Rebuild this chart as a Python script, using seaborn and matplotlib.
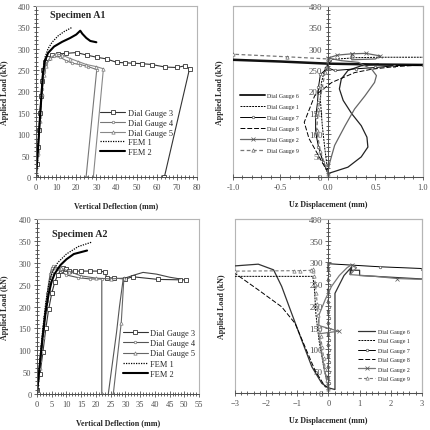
import matplotlib
matplotlib.use("Agg")
import matplotlib.pyplot as plt
from matplotlib.ticker import MultipleLocator
from matplotlib.patches import Rectangle
import seaborn as sns

# ---- Specimen A1: vertical deflection ----
a1_dg3_x = [0, 0.5, 1, 1.5, 2, 2.5, 3, 3.5, 4.5, 6, 8, 11, 15, 20.2, 25.2, 30.2, 35.1, 40.1, 44.3, 48, 52.6, 57.5, 64.2, 70, 74.1, 76.3, 63.8]
a1_dg3_y = [0, 30, 70, 110, 150, 190, 225, 250, 268, 278, 285, 288, 289, 291, 285, 280, 276, 268, 267, 266, 265, 263, 257, 256, 260, 253, 0]
a1_dg4_x = [0, 1, 2, 3, 4, 5, 7, 9, 12, 15, 18, 22, 26, 30.2, 24.9]
a1_dg4_y = [0, 60, 140, 205, 245, 265, 278, 282, 280, 272, 266, 263, 258, 251, 0]
a1_dg5_x = [0, 1, 2, 3, 4, 5, 7, 10, 13, 17, 21, 25, 30, 33.5, 28.5]
a1_dg5_y = [0, 55, 130, 195, 238, 260, 278, 288, 285, 277, 270, 263, 258, 253, 0]
a1_fem1_x = [0, 1, 2, 3, 3.5, 4.5, 6, 8, 11, 14, 18]
a1_fem1_y = [0, 70, 145, 215, 250, 280, 300, 315, 330, 340, 350]
a1_fem2_x = [0, 1, 2, 3, 3.5, 4.5, 6, 9, 13, 17, 20, 22, 23, 25, 27, 30]
a1_fem2_y = [0, 65, 140, 210, 245, 272, 290, 305, 316, 325, 333, 342, 335, 325, 318, 315]

# ---- Specimen A1: Uz displacement ----
tr_dg6_x = [0, 0.21, 0.35, 0.42, 0.41, 0.35, 0.25, 0.16, 0.12, 0.14, 0.21, 0.35, 0.53]
tr_dg6_y = [8, 23, 47, 70, 93, 120, 148, 179, 206, 229, 249, 260, 264]
tr_dg6_top_x = [-1.0, -0.5, 0.0, 0.5, 1.0]
tr_dg6_top_y = [274, 270, 265, 263, 262]
tr_dg1_x = [0, -0.03, -0.06, -0.08, -0.07, -0.03, 0.05, 0.3, 0.56, 1.0]
tr_dg1_y = [10, 60, 120, 180, 220, 255, 275, 279, 280, 280]
tr_dg7_x = [0, -0.05, -0.1, -0.13, -0.13, -0.11, -0.1, -0.08, 0.0, 0.07, 0.3, 0.5, 0.7, 1.0]
tr_dg7_y = [8, 35, 70, 105, 140, 175, 210, 240, 255, 249, 253, 256, 260, 262]
tr_dg8_x = [0, -0.1, -0.2, -0.25, -0.14, 0.04, 0.28, 0.46, 0.7, 1.0]
tr_dg8_y = [10, 50, 90, 128, 190, 221, 244, 252, 258, 262]
tr_dg2_x = [0, 0.02, 0.07, 0.18, 0.28, 0.39, 0.49, 0.51, 0.46, 0.32, 0.14, 0.0, 0.1, 0.25, 0.4, 0.55, 0.5, 0.25, 0.25]
tr_dg2_y = [12, 35, 74, 120, 159, 190, 221, 237, 252, 268, 272, 278, 285, 288, 289, 283, 276, 274, 287]
tr_dg9_x = [0, -0.08, -0.12, -0.1, -0.06, -0.03, 0.0, -0.43, -1.0]
tr_dg9_y = [8, 60, 110, 160, 210, 245, 276, 281, 287]

# ---- Specimen A2: vertical deflection ----
a2_dg3_x = [0, 1, 2, 3, 4, 5, 6, 7, 8, 9, 10, 11, 13, 15, 18, 21, 23, 23.7, 26, 30, 32.5, 41, 48.5, 50.5]
a2_dg3_y = [10, 45, 95, 150, 195, 230, 255, 272, 282, 288, 285, 281, 281, 281, 281, 281, 279, 266, 265, 263, 268, 262, 261, 261]
a2_dg4_x = [0, 0.5, 1, 1.5, 2, 2.5, 3, 3.5, 4, 4.5, 5, 5.5, 7, 10, 14, 18, 22, 22]
a2_dg4_y = [10, 40, 75, 110, 145, 175, 205, 230, 255, 275, 288, 292, 285, 272, 266, 263, 263, 0]
a2_dg5_x = [0, 1, 1.5, 2, 2.5, 3, 3.5, 4, 4.5, 5, 6, 8, 11, 15, 20, 25, 29.5, 28.6, 25.9]
a2_dg5_y = [10, 60, 95, 130, 160, 190, 215, 240, 260, 278, 290, 288, 280, 270, 265, 263, 265, 163, 0]
a2_dg5_hump_x = [29.9, 33, 36, 40.6, 45, 48.6]
a2_dg5_hump_y = [265, 272, 278, 274, 267, 263]
a2_dg4_unload_x = [29.3, 28, 27, 24.2]
a2_dg4_unload_y = [265, 200, 141, 0]
a2_fem1_x = [0, 1, 2, 3, 4, 5, 7, 10, 14, 18.5]
a2_fem1_y = [0, 80, 150, 210, 250, 275, 300, 320, 337, 347]
a2_fem2_x = [0, 1, 2, 3, 4, 5, 6, 8, 10, 12.5, 17]
a2_fem2_y = [0, 70, 135, 190, 230, 258, 275, 295, 308, 320, 328]

# ---- Specimen A2: Uz displacement ----
br_dg6_x = [-3, -2.25, -1.76, -1.5, -1.18, -0.86, -0.53, -0.21, 0.0, 0.21, 0.21, 0.5, 0.75, 0.7, 0.7, 1.0, 1.0, 3.0]
br_dg6_y = [292, 296, 283, 245, 183, 122, 60, 22, 12, 8, 229, 270, 290, 272, 282, 282, 270, 262]
br_dg1_x = [0, -0.15, -0.3, -0.4, -0.45, -0.5, -1.2, -3.0]
br_dg1_y = [10, 60, 120, 180, 240, 268, 268, 268]
br_dg7_x = [0, 0.02, -0.02, 0.02, -0.02, 0.02, -0.02, 0.02, -0.02, 0.02, -0.02, 0.02, -0.02, 0.02, -0.02, 0.02, -0.02, 0.02, -0.02, 0.02, -0.02, 0.02, -0.02, 0.0, 1.65, 3.0]
br_dg7_y = [10, 22, 35, 48, 60, 72, 85, 98, 110, 122, 135, 148, 160, 172, 185, 198, 210, 222, 235, 248, 260, 272, 285, 297, 290, 286]
br_dg8_x = [0, -0.1, -0.43, -0.75, -1.07, -1.5, -2.25, -3.0]
br_dg8_y = [14, 14, 52, 106, 160, 198, 237, 275]
br_dg2_x = [0, -0.15, -0.25, -0.31, 0.33, -0.31, -0.3, -0.1, 0.1, 0.35, 0.6, 0.75, 0.9, 0.7, 1.5, 2.2, 3.0]
br_dg2_y = [12, 60, 110, 136, 142, 155, 180, 215, 245, 270, 288, 295, 288, 272, 268, 263, 261]
br_dg9_x = [0, -0.05, -0.1, -0.15, -0.2, -0.25, -0.3, -0.33, -0.36, -0.39, -0.42, -0.45, -0.48, -0.5, -0.55, -0.9, -1.1, -3.0]
br_dg9_y = [10, 30, 55, 80, 105, 130, 155, 180, 205, 230, 250, 268, 280, 285, 282, 281, 281, 280]

sns.set_style("ticks")
plt.rcParams["font.family"] = ["Liberation Serif", "DejaVu Serif"]

TICK = "#4d4d4d"
FRAME = "#b5b5b5"


def line(ax, x, y, label="_nolegend_", **kw):
    sns.lineplot(x=x, y=y, ax=ax, sort=False, estimator=None, legend=False, label=label, **kw)


def style_axes(ax, xlim, xmaj, xmin, center=False):
    ax.set_xlim(*xlim)
    ax.set_ylim(0, 400)
    ax.xaxis.set_major_locator(MultipleLocator(xmaj))
    ax.xaxis.set_minor_locator(MultipleLocator(xmin))
    ax.yaxis.set_major_locator(MultipleLocator(50))
    ax.yaxis.set_minor_locator(MultipleLocator(10))
    ax.tick_params(which="both", direction="inout", colors=TICK, labelsize=6, width=0.6)
    ax.tick_params(which="major", length=4, pad=2)
    ax.tick_params(which="minor", length=2.5)
    if center:
        ax.tick_params(axis="y", labelsize=6.5)
    for s in ["top", "right"]:
        ax.spines[s].set_color(FRAME)
        ax.spines[s].set_linewidth(0.8)
    for s in ["left", "bottom"]:
        ax.spines[s].set_color(TICK)
        ax.spines[s].set_linewidth(0.7)
    if center:
        ax.spines["left"].set_position(("data", 0))
        ax.add_patch(Rectangle((0, 0), 1, 1, transform=ax.transAxes, fill=False,
                               ec=FRAME, lw=0.8, clip_on=False, zorder=0))
    ax.set_ylabel("Applied Load (kN)", fontsize=5.8, fontweight="bold")
    ax.yaxis.set_label_coords(-0.045 if center else -0.17, 0.5)


fig = plt.figure(figsize=(4.31, 4.31), dpi=100)
ax1 = fig.add_axes([0.0835, 0.587, 0.3735, 0.397])
ax2 = fig.add_axes([0.5406, 0.587, 0.4408, 0.397])
ax3 = fig.add_axes([0.0858, 0.0835, 0.376, 0.406])
ax4 = fig.add_axes([0.545, 0.0858, 0.434, 0.404])

sq = dict(marker="s", markersize=2.8, markerfacecolor="white", markeredgewidth=0.6)
ci = dict(marker="o", markersize=1.8, markerfacecolor="white", markeredgewidth=0.5)
tri = dict(marker="^", markersize=2.4, markerfacecolor="white", markeredgewidth=0.5)

# panel A1
line(ax1, a1_dg3_x, a1_dg3_y, "Dial Gauge 3", color="#333333", lw=0.8, markeredgecolor="#333333", **sq)
line(ax1, a1_dg4_x, a1_dg4_y, "Dial Gauge 4", color="#777777", lw=0.8, markeredgecolor="#777777", **ci)
line(ax1, a1_dg5_x, a1_dg5_y, "Dial Gauge 5", color="#888888", lw=0.8, markeredgecolor="#777777", **tri)
line(ax1, a1_fem1_x, a1_fem1_y, "FEM 1", color="black", lw=0.9, linestyle=(0, (1, 1)))
line(ax1, a1_fem2_x, a1_fem2_y, "FEM 2", color="black", lw=1.5)
style_axes(ax1, (0, 80), 10, 2)
ax1.set_xlabel("Vertical Deflection (mm)", fontsize=5.8, fontweight="bold", labelpad=8)
ax1.text(7, 381, "Specimen A1", fontsize=7.2, fontweight="bold", va="center")
ax1.legend(loc="upper left", bbox_to_anchor=(0.40, 0.395), frameon=False, fontsize=6,
           handlelength=3.0, handletextpad=0.3, labelspacing=0.2, borderpad=0, borderaxespad=0)

# panel A1 Uz
line(ax2, tr_dg6_x, tr_dg6_y, "Dial Gauge 6", color="#222222", lw=0.9)
line(ax2, tr_dg6_top_x, tr_dg6_top_y, color="#111111", lw=1.8)
line(ax2, tr_dg1_x, tr_dg1_y, "Dial Gauge 1", color="black", lw=0.7, linestyle=(0, (2, 1)))
line(ax2, tr_dg7_x, tr_dg7_y, "Dial Gauge 7", color="black", lw=0.7, markeredgecolor="#555555", **ci)
line(ax2, tr_dg8_x, tr_dg8_y, "Dial Gauge 8", color="black", lw=0.7, linestyle=(0, (5, 2)))
line(ax2, tr_dg2_x, tr_dg2_y, "Dial Gauge 2", color="#666666", lw=0.9, marker="x", markersize=2.5,
     markeredgecolor="#555555", markeredgewidth=0.5, markevery=[11, 12, 13, 14, 15, 18])
line(ax2, tr_dg9_x, tr_dg9_y, "Dial Gauge 9", color="#777777", lw=0.9, linestyle=(0, (3, 2)),
     markeredgecolor="#666666", **tri)
style_axes(ax2, (-1, 1), 0.5, 0.1, center=True)
ax2.xaxis.set_major_formatter(plt.FormatStrFormatter("%.1f"))
ax2.set_xlabel("Uz Displacement (mm)", fontsize=5.8, fontweight="bold", labelpad=7)
leg = ax2.legend(loc="upper left", bbox_to_anchor=(0.037, 0.49), frameon=False, fontsize=4.2,
                 handlelength=4.3, handletextpad=0.4, labelspacing=1.0, borderpad=0, borderaxespad=0)
leg.get_lines()[0].set_linewidth(1.4)

# panel A2
line(ax3, a2_dg3_x, a2_dg3_y, "Dial Gauge 3", color="#333333", lw=0.8, markeredgecolor="#333333", **sq)
line(ax3, a2_dg4_x, a2_dg4_y, "Dial Gauge 4", color="#555555", lw=0.8, markeredgecolor="#777777", **ci)
line(ax3, a2_dg5_x, a2_dg5_y, "Dial Gauge 5", color="#666666", lw=0.8, markeredgecolor="#777777", **tri)
line(ax3, a2_dg5_hump_x, a2_dg5_hump_y, color="#444444", lw=0.8)
line(ax3, a2_dg4_unload_x, a2_dg4_unload_y, color="#555555", lw=0.8)
line(ax3, a2_fem1_x, a2_fem1_y, "FEM 1", color="black", lw=0.9, linestyle=(0, (1, 1)))
line(ax3, a2_fem2_x, a2_fem2_y, "FEM 2", color="black", lw=1.5)
style_axes(ax3, (0, 55), 5, 1)
ax3.set_xlabel("Vertical Deflection (mm)", fontsize=5.8, fontweight="bold", labelpad=8)
ax3.text(5, 368, "Specimen A2", fontsize=7.2, fontweight="bold", va="center")
ax3.legend(loc="upper left", bbox_to_anchor=(0.53, 0.37), frameon=False, fontsize=6,
           handlelength=3.0, handletextpad=0.3, labelspacing=0.25, borderpad=0, borderaxespad=0)

# panel A2 Uz
line(ax4, br_dg6_x, br_dg6_y, "Dial Gauge 6", color="#333333", lw=0.9)
line(ax4, br_dg1_x, br_dg1_y, "Dial Gauge 1", color="black", lw=0.7, linestyle=(0, (2, 1)))
line(ax4, br_dg7_x, br_dg7_y, "Dial Gauge 7", color="black", lw=0.7, markeredgecolor="#555555", **ci)
line(ax4, br_dg8_x, br_dg8_y, "Dial Gauge 8", color="black", lw=0.7, linestyle=(0, (5, 2)))
line(ax4, br_dg2_x, br_dg2_y, "Dial Gauge 2", color="#777777", lw=0.9, marker="x", markersize=2.5,
     markeredgecolor="#555555", markeredgewidth=0.5, markevery=[4, 11, 15])
line(ax4, br_dg9_x, br_dg9_y, "Dial Gauge 9", color="#777777", lw=0.8, linestyle=(0, (3, 2)),
     markeredgecolor="#777777", **tri)
style_axes(ax4, (-3, 3), 1, 0.2, center=True)
ax4.set_xlabel("Uz Displacement (mm)", fontsize=5.8, fontweight="bold", labelpad=7)
ax4.legend(loc="upper left", bbox_to_anchor=(0.66, 0.37), frameon=False, fontsize=4.2,
           handlelength=2.9, handletextpad=0.5, labelspacing=0.75, borderpad=0, borderaxespad=0)

fig.savefig("out.png", dpi=100)
